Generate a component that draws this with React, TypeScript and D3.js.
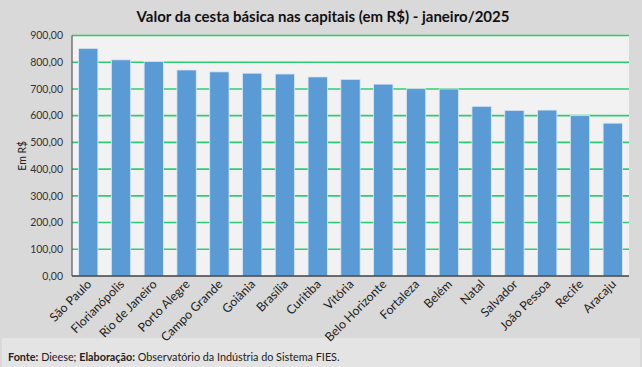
import React from "react";
import * as d3 from "d3";

const categories = [
  "São Paulo", "Florianópolis", "Rio de Janeiro", "Porto Alegre", "Campo Grande",
  "Goiânia", "Brasília", "Curitiba", "Vitória", "Belo Horizonte", "Fortaleza",
  "Belém", "Natal", "Salvador", "João Pessoa", "Recife", "Aracaju",
];
const values = [852, 809, 803, 771, 764, 759, 756, 745, 736, 718, 701, 700, 635, 620, 621, 600, 572];
const yTicks = [0, 100, 200, 300, 400, 500, 600, 700, 800, 900];

const W = 642, H = 367;
const left = 72, right = 629, top = 35.5, bottom = 276;
const FONT = "Lato, 'Noto Sans', sans-serif";

export default function App() {
  const x = d3.scaleBand<string>().domain(categories).range([left, right]).paddingInner(0.41).paddingOuter(0.2);
  const y = d3.scaleLinear().domain([0, 900]).range([bottom, top]);
  const fmt = (v: number) => d3.format(".2f")(v).replace(".", ",");
  return (
    <svg width={W} height={H} style={{ position: "fixed", left: 0, top: 0 }} fontFamily={FONT}>
      <rect x={0} y={0} width={W} height={H} fill="#d9d9d9" />
      <rect x={2} y={338} width={W - 4} height={H - 338} fill="#e4e4e4" />
      <text x={W / 2 + 2} y={22} textAnchor="middle" fontSize={15} fontWeight="bold" fill="#111">
        Valor da cesta básica nas capitais (em R$) - janeiro/2025
      </text>
      <rect x={left} y={top} width={right - left} height={bottom - top} fill="#f2f2f2" />
      {yTicks.map((t) => (
        <g key={t}>
          {t > 0 && <line x1={left} x2={right} y1={y(t)} y2={y(t)} stroke="#2ecc71" strokeWidth={1.6} />}
          <text x={63} y={y(t)} dy="0.35em" textAnchor="end" fontSize={10.5} fill="#333">{fmt(t)}</text>
        </g>
      ))}
      {categories.map((c, i) => (
        <rect key={c} x={x(c)!} y={y(values[i])} width={x.bandwidth()} height={bottom - y(values[i])}
          fill="#5b9bd5" stroke="#dfe9f5" strokeWidth={0.8} />
      ))}
      <line x1={left} x2={left} y1={top} y2={bottom} stroke="#595959" strokeWidth={1.2} />
      <line x1={left} x2={right} y1={bottom} y2={bottom} stroke="#404040" strokeWidth={1.5} />
      {categories.map((c) => {
        const cx = x(c)! + x.bandwidth() / 2 + 4;
        const cy = 285;
        return (
          <text key={c} x={cx} y={cy} transform={`rotate(-45 ${cx} ${cy})`} textAnchor="end" fontSize={12.3} fill="#222">
            {c}
          </text>
        );
      })}
      <text transform={`translate(26 ${(top + bottom) / 2}) rotate(-90)`} textAnchor="middle" fontSize={10.5} fill="#222">Em R$</text>
      <text x={8} y={361} fontSize={10.8} fill="#222">
        <tspan fontWeight="bold">Fonte:</tspan> Dieese; <tspan fontWeight="bold">Elaboração:</tspan> Observatório da Indústria do Sistema FIES.
      </text>
    </svg>
  );
}
